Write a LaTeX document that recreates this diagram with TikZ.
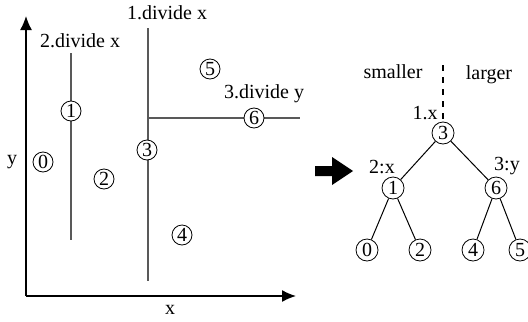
\documentclass[tikz,border=0pt]{standalone}
\usepackage{fontspec}
\setmainfont{Liberation Serif}
\usetikzlibrary{arrows.meta}
\tikzset{
    num/.style={circle, draw, fill=white, inner sep=0pt, minimum size=10pt},
    knot/.style={circle, draw, fill=white, inner sep=0pt, minimum size=11pt},
    cut/.style={draw=black!65, line width=0.6pt},
    edge/.style={draw, line width=0.5pt}
}
\begin{document}
\begin{tikzpicture}[x=0.5pt, y=-0.5pt, font=\fontsize{10}{12}\selectfont]
    \useasboundingbox (0,0) rectangle (528,321);
    \begin{scope}
    \clip (0,0) rectangle (528,321);
    % plane with the cuts
    \coordinate (o) at (26,296);
    \coordinate (ytop) at (26,16);
    \coordinate (xend) at (296,296);
    \draw[line width=0.7pt, -{Latex[length=7pt,width=6pt]}] (o) -- (ytop);
    \draw[line width=0.7pt, -{Latex[length=7pt,width=6pt]}] (o) -- (xend);
    \node (ylab) at (12,162) {y};
    \node (xlab) at (170,310) {x};
    \draw[cut] (71,53) -- (71,240);
    \draw[cut] (148,28) -- (148,281);
    \draw[cut] (148,118) -- (300,118);
    \node (cutone) at (167,13) {1.divide x};
    \node (cuttwo) at (80,41) {2.divide x};
    \node (cutthree) at (264,94) {3.divide y};
    \node[num] (p0) at (43,162) {0};
    \node[num] (p1) at (71,111) {1};
    \node[num] (p2) at (104,179) {2};
    \node[num] (p3) at (147,150) {3};
    \node[num] (p4) at (182,235) {4};
    \node[num] (p5) at (210,69) {5};
    \node[num] (p6) at (254,118) {6};
    % block arrow
    \fill (315,166) -- (332,166) -- (332,157) -- (353,171) -- (332,185) -- (332,176) -- (315,176) -- cycle;
    % tree
    \node[knot] (t3) at (443,133) {3};
    \node[knot] (t1) at (393,188) {1};
    \node[knot] (t6) at (496,188) {6};
    \node[knot] (t0) at (367,250) {0};
    \node[knot] (t2) at (420,250) {2};
    \node[knot] (t4) at (473,250) {4};
    \node[knot] (t5) at (520,250) {5};
    \coordinate (split) at (443,65);
    \draw[dashed, line width=0.7pt] (split) -- (t3);
    \draw[edge] (t3) -- (t1);
    \draw[edge] (t3) -- (t6);
    \draw[edge] (t1) -- (t0);
    \draw[edge] (t1) -- (t2);
    \draw[edge] (t6) -- (t4);
    \draw[edge] (t6) -- (t5);
    \node (small) at (393,72) {smaller};
    \node (large) at (489,75) {larger};
    \node (lone) at (425,113) {1.x};
    \node (ltwo) at (382,167) {2:x};
    \node (lthree) at (507,166) {3:y};
    \end{scope}
\end{tikzpicture}
\end{document}
